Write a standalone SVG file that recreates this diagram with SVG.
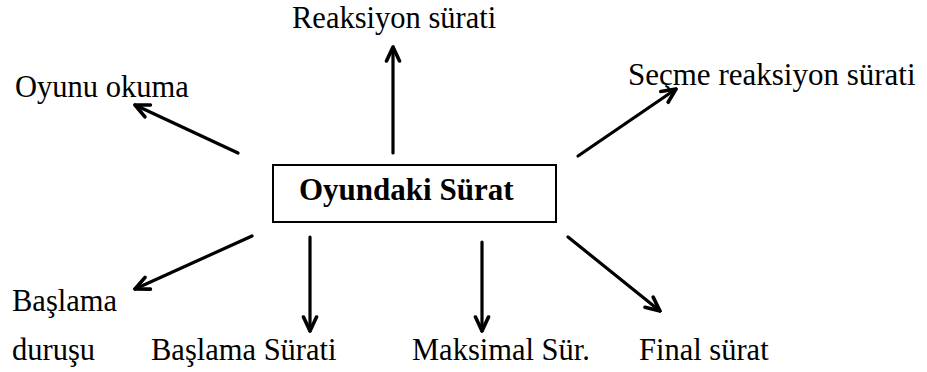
<svg xmlns="http://www.w3.org/2000/svg" width="927" height="372" viewBox="0 0 927 372">
  <style>
    text { font-family: 'Liberation Serif', 'Times New Roman', serif; fill: #000; }
    .lbl { font-size: 30.5px; }
    .title { font-size: 31px; font-weight: bold; }
    .box { fill: #fff; stroke: #000; stroke-width: 2; }
    .arrow { stroke: #000; stroke-width: 3.2; fill: none; stroke-linecap: round; marker-end: url(#head); }
  </style>
  <defs>
    <!-- open chevron arrowhead, drawn with a heavy pen -->
    <marker id="head" markerUnits="userSpaceOnUse" viewBox="0 0 18 18" refX="16" refY="9" markerWidth="18" markerHeight="18" orient="auto">
      <path d="M2,2.5 L16,9 L2,15.5" fill="none" stroke="#000" stroke-width="3.6" stroke-linecap="round" stroke-linejoin="round"/>
    </marker>
  </defs>
  <rect width="927" height="372" fill="#fff"/>

  <g id="connectors">
    <line class="arrow" x1="238" y1="153" x2="135" y2="105"/>
    <line class="arrow" x1="393" y1="153" x2="393" y2="47"/>
    <line class="arrow" x1="578" y1="156" x2="676" y2="89"/>
    <line class="arrow" x1="252" y1="236" x2="135" y2="289"/>
    <line class="arrow" x1="310" y1="237" x2="310" y2="331"/>
    <line class="arrow" x1="482" y1="242" x2="482" y2="331"/>
    <line class="arrow" x1="568" y1="237" x2="660" y2="311"/>
  </g>

  <g id="center">
    <rect class="box" x="273" y="165" width="283" height="57"/>
    <text class="title" x="299" y="200">Oyundaki Sürat</text>
  </g>
  <g id="reaksiyon-surati">
    <text class="lbl" x="292" y="28">Reaksiyon sürati</text>
  </g>
  <g id="oyunu-okuma">
    <text class="lbl" x="15" y="97">Oyunu okuma</text>
  </g>
  <g id="secme-reaksiyon-surati">
    <text class="lbl" x="628" y="85" style="font-size:31px">Seçme reaksiyon sürati</text>
  </g>
  <g id="baslama-durusu">
    <text class="lbl" x="12" y="311">Başlama</text>
    <text class="lbl" x="12" y="360">duruşu</text>
  </g>
  <g id="baslama-surati">
    <text class="lbl" x="151" y="360">Başlama Sürati</text>
  </g>
  <g id="maksimal-sur">
    <text class="lbl" x="412" y="360">Maksimal Sür.</text>
  </g>
  <g id="final-surat">
    <text class="lbl" x="639" y="360">Final sürat</text>
  </g>
</svg>
